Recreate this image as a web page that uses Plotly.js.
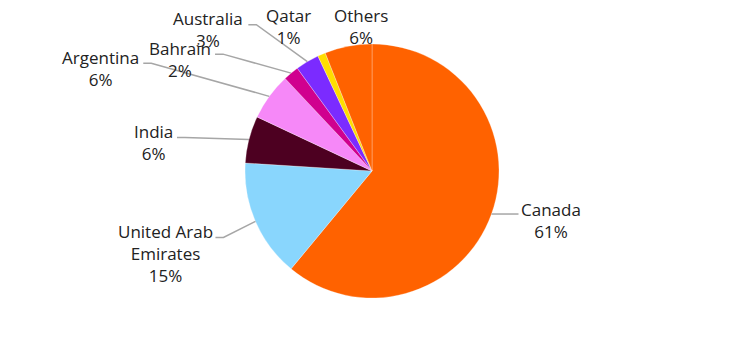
<!DOCTYPE html>
<html><head><meta charset="utf-8">
<script src="https://cdn.plot.ly/plotly-3.0.1.min.js"></script>
<style>html,body{margin:0;padding:0;background:#fff}#chart{width:744px;height:343px}</style>
</head><body><div id="chart"></div>
<script>
// Data
const countries = ["Canada", "United Arab Emirates", "India", "Argentina", "Bahrain", "Australia", "Qatar", "Others"];
const labelTexts = ["Canada", "United Arab<br>Emirates", "India", "Argentina", "Bahrain", "Australia", "Qatar", "Others"];
const shares = [61, 15, 6, 6, 2, 3, 1, 6];
const sliceColors = ["#FF6200", "#89D6FD", "#4D0021", "#F688F8", "#D0008F", "#7B2BFF", "#FFDD00", "#FF6200"];

// Layout helpers (placement styling, pixels relative to the slice edge point)
const W = 744, H = 343;
const cx = 372, cy = 171, R = 127;
const labelOffset = [[60, 6], [-90, 32], [-95, 3], [-169, -28], [-111, -14], [-99, -32], [-33, -28], [13, -20]];
const lineEnd = [[27, 0], [-40, 16], [-72, -2], [-126, -33], [-76, -19], [-59, -37], null, null];
const elbow = 8;

const px = x => x / W, py = y => 1 - y / H;
const total = shares.reduce((a, b) => a + b, 0);

const annotations = [], shapes = [];
let cum = 0;
shares.forEach((v, i) => {
  const mid = (cum + v / 2) / total * 2 * Math.PI;
  cum += v;
  const ex = cx + R * Math.sin(mid), ey = cy - R * Math.cos(mid);
  const lx = ex + labelOffset[i][0], ly = ey + labelOffset[i][1];
  annotations.push({
    x: px(lx), y: py(ly), xref: 'paper', yref: 'paper',
    text: labelTexts[i] + '<br>' + v + '%', showarrow: false,
    xanchor: 'center', yanchor: 'middle', align: 'center',
    font: {family: 'Open Sans, sans-serif', size: 17, color: '#222222'}
  });
  if (lineEnd[i]) {
    const x0 = ex + lineEnd[i][0], y0 = ey + lineEnd[i][1];
    const dir = lineEnd[i][0] < 0 ? 1 : -1;
    const x1 = x0 + dir * elbow;
    shapes.push({
      type: 'path', xref: 'paper', yref: 'paper',
      path: `M ${px(x0)},${py(y0)} L ${px(x1)},${py(y0)} L ${px(ex)},${py(ey)}`,
      line: {color: '#A6A6A6', width: 1.5}
    });
  }
});

const trace = {
  type: 'pie', labels: countries, values: shares, sort: false,
  direction: 'clockwise', rotation: 0,
  marker: {colors: sliceColors, line: {color: 'rgba(255,255,255,0.35)', width: 0.8}},
  textinfo: 'none', hoverinfo: 'label+percent',
  domain: {x: [(cx - R) / W, (cx + R) / W], y: [py(cy + R), py(cy - R)]}
};

Plotly.newPlot('chart', [trace], {
  width: W, height: H, margin: {l: 0, r: 0, t: 0, b: 0},
  showlegend: false, paper_bgcolor: '#fff',
  annotations: annotations, shapes: shapes
}, {displayModeBar: false, staticPlot: true});
</script></body></html>
